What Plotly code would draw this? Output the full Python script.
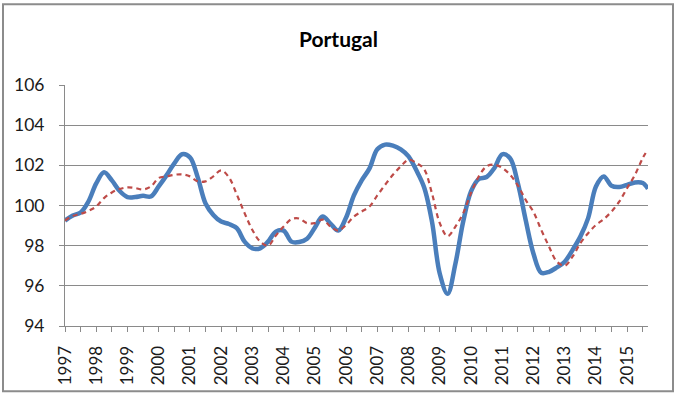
import plotly.graph_objects as go

# Quarterly observations from 1997Q1 to 2015Q3, plus final observation (Sep 2015)
start_year = 1997
n_quarters = 75
last_obs = 2015 + 8 / 12

blue_values = [
    99.25, 99.5, 99.65, 100.2, 101.1, 101.65, 101.25, 100.72, 100.42, 100.42,
    100.48, 100.45, 100.95, 101.5, 102.1, 102.55, 102.4, 101.4, 100.1, 99.53,
    99.2, 99.08, 98.87, 98.2, 97.87, 97.87, 98.2, 98.7, 98.75, 98.2,
    98.18, 98.35, 98.9, 99.45, 99.1, 98.75, 99.4, 100.5, 101.25, 101.85,
    102.8, 103.03, 102.98, 102.8, 102.45, 101.75, 100.9, 99.2, 96.6, 95.6,
    97.1, 99.2, 100.7, 101.32, 101.42, 101.87, 102.55, 102.35, 101.1, 99.28,
    97.6, 96.65, 96.7, 96.92, 97.2, 97.78, 98.45, 99.37, 100.95, 101.45,
    100.98, 100.92, 101.03, 101.15, 101.12, 100.83,
]

red_values = [
    99.25, 99.48, 99.58, 99.73, 99.95, 100.37, 100.65, 100.82, 100.9, 100.87,
    100.8, 100.95, 101.37, 101.45, 101.53, 101.55, 101.45, 101.2, 101.2, 101.45,
    101.75, 101.4, 100.55, 99.62, 98.78, 98.2, 98.0, 98.5, 98.95, 99.32,
    99.35, 99.12, 99.12, 99.3, 98.95, 98.75, 99.03, 99.45, 99.7, 99.95,
    100.5, 101.03, 101.53, 101.95, 102.28, 102.12, 101.8, 100.6, 99.12, 98.47,
    98.95, 99.62, 100.62, 101.45, 101.95, 102.03, 101.87, 101.53, 101.0, 100.28,
    99.68, 98.78, 97.95, 97.2, 97.0, 97.45, 98.12, 98.62, 99.03, 99.32,
    99.7, 100.2, 100.87, 101.53, 102.37, 102.8,
]

year_labels = [str(y) for y in range(1997, 2016)]
y_ticks = [94, 96, 98, 100, 102, 104, 106]

x_vals = [start_year + q / 4 for q in range(n_quarters)] + [last_obs]

FONT = "Lato"
GRID = "#8a8a8a"
TXT = "#1a1a1a"

fig = go.Figure()
fig.add_trace(go.Scatter(
    x=x_vals, y=blue_values, mode="lines",
    line=dict(color="#4a7ebb", width=4.5, shape="spline", smoothing=1.0),
    showlegend=False, hoverinfo="skip",
))
fig.add_trace(go.Scatter(
    x=x_vals, y=red_values, mode="lines",
    line=dict(color="#be4b48", width=2.2, dash="5px,4px", shape="spline", smoothing=1.0),
    showlegend=False, hoverinfo="skip",
))

fig.update_layout(
    width=681, height=399,
    margin=dict(l=65, r=33, t=85, b=72.5),
    paper_bgcolor="white", plot_bgcolor="white",
    title=dict(text="<b>Portugal</b>", x=0.497, xanchor="center",
               y=1 - 40 / 399, yanchor="middle",
               font=dict(family=FONT, size=21, color="#000000")),
    font=dict(family=FONT, size=17, color=TXT),
)

fig.update_xaxes(
    range=[start_year, last_obs],
    tickmode="array",
    tickvals=[int(t) for t in year_labels],
    ticktext=year_labels,
    tickangle=-90,
    ticks="outside", ticklen=5, tickcolor=GRID, tickwidth=1,
    minor=dict(ticks="outside", ticklen=5, tickcolor=GRID, dtick=0.5, tick0=1997, showgrid=False),
    showgrid=False, zeroline=False,
    showline=True, linecolor=GRID, linewidth=1,
    ticklabelstandoff=7,
    tickfont=dict(family=FONT, size=17, color=TXT),
)
fig.update_yaxes(
    range=[94, 106],
    tickmode="array", tickvals=y_ticks, ticktext=[str(v) for v in y_ticks],
    ticks="outside", ticklen=5, tickcolor=GRID, tickwidth=1,
    showgrid=True, gridcolor=GRID, gridwidth=1,
    zeroline=False,
    showline=True, linecolor=GRID, linewidth=1,
    ticklabelstandoff=11,
    tickfont=dict(family=FONT, size=17.5, color=TXT),
)

# outer chart border
fig.add_shape(type="rect", xref="paper", yref="paper",
              x0=(3 - 65) / 583, x1=(673 - 65) / 583,
              y0=(326.5 - 392) / 241.5, y1=(326.5 - 4) / 241.5,
              line=dict(color="#8c8c8c", width=2), fillcolor="rgba(0,0,0,0)",
              layer="above")

fig.write_html(
    "out.html",
    config={"displayModeBar": False, "staticPlot": True},
    post_script="document.body.style.margin='0';document.body.style.padding='0';"
                "document.body.style.overflow='hidden';",
)
